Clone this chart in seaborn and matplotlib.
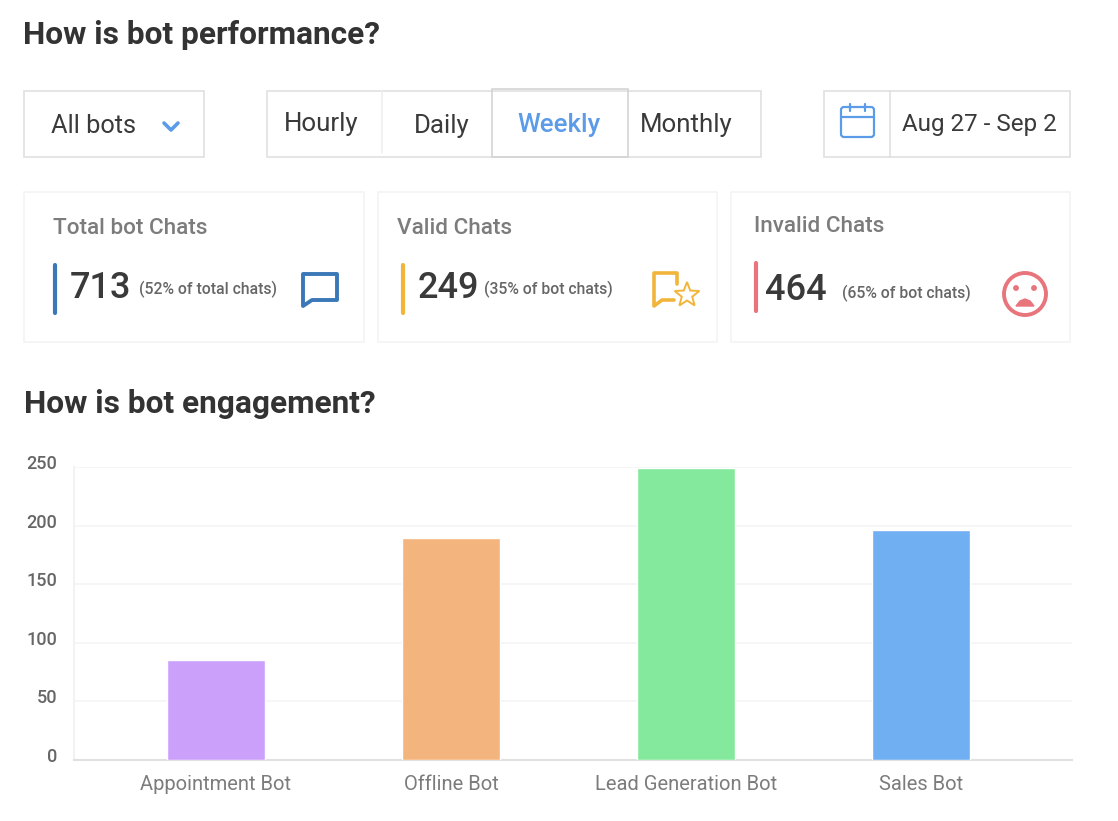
import matplotlib
matplotlib.use("Agg")
import matplotlib.pyplot as plt
from matplotlib.patches import Rectangle, Circle, Polygon, FancyBboxPatch, Wedge
from matplotlib.transforms import ScaledTranslation
import seaborn as sns
import pandas as pd
import numpy as np

bots = ["Appointment Bot", "Offline Bot", "Lead Generation Bot", "Sales Bot"]
chats = [85, 189, 249, 196]
barColors = ["#cba0fb", "#f4b47d", "#84e99c", "#70aff2"]
yTicks = [0, 50, 100, 150, 200, 250]

periods = ["Hourly", "Daily", "Weekly", "Monthly"]
cardTitles = ["Total bot Chats", "Valid Chats", "Invalid Chats"]
cardValues = ["713", "249", "464"]
cardNotes = ["(52% of total chats)", "(35% of bot chats)", "(65% of bot chats)"]

W, H = 1118, 821
dark = "#3a3a3a"
grey = "#7c7c7c"
line = "#e0e0e0"
blue = "#5b9be8"

sns.set_style("white")
plt.rcParams["font.family"] = ["Roboto", "DejaVu Sans"]

fig = plt.figure(figsize=(W / 100, H / 100), dpi=100, facecolor="white")

# the bar chart, placed on the pixels of the original plot area
left, right, top, bottom = 74, 1072, 467, 760
ax = fig.add_axes([left / W, 1 - bottom / H, (right - left) / W, (bottom - top) / H])
df = pd.DataFrame({"bot": bots, "chats": chats})
sns.barplot(data=df, x="bot", y="chats", hue="bot", palette=barColors, width=0.417,
            legend=False, saturation=1, ax=ax, zorder=3)
ax.set_xlim(-0.604, 3.643)
ax.set_ylim(0, 250)
ax.set_yticks(yTicks)
ax.set_xlabel("")
ax.set_ylabel("")
ax.grid(axis="y", color="#f5f5f5", lw=1.2, zorder=0)
sns.despine(ax=ax, top=True, right=True)
ax.spines["left"].set_color("#f0f0f0")
ax.spines["left"].set_linewidth(1.2)
ax.spines["bottom"].set_color("#e0e0e0")
ax.spines["bottom"].set_linewidth(1.5)
ax.tick_params(axis="x", length=0, pad=11, labelsize=14.5, labelcolor=grey)
ax.tick_params(axis="y", length=0, pad=12, labelsize=13, labelcolor="#666666")
# tick labels sit a little above their grid lines in the original
up = ScaledTranslation(0, 3 / 100, fig.dpi_scale_trans)
for t in ax.get_yticklabels():
    t.set_verticalalignment("center")
    t.set_fontweight("medium")
    t.set_transform(t.get_transform() + up)

# overlay in pixel coordinates for the dashboard part
ui = fig.add_axes([0, 0, 1, 1], facecolor="none")
ui.set_xlim(0, W)
ui.set_ylim(H, 0)
ui.axis("off")


def box(x0, y0, x1, y1, color=line, lw=1.2):
    ui.add_patch(Rectangle((x0, y0), x1 - x0, y1 - y0, fill=False, ec=color, lw=lw))


def label(x, y, s, size, color=dark, weight="normal", ha="left"):
    ui.text(x, y + 1, s, fontsize=size, color=color, fontweight=weight, ha=ha, va="center")


label(23, 34, "How is bot performance?", 22.8, "#333333", "bold")
label(24, 403, "How is bot engagement?", 22.8, "#333333", "bold")

# dropdown
box(24, 91, 204, 157)
label(51, 125, "All bots", 18.3)
ui.plot([164, 171, 178], [123, 130, 123], color=blue, lw=2.6)

# period switch
box(267, 91, 761, 157)
ui.plot([382, 382], [91, 153], color="#efefef", lw=1.2)
box(492, 89, 628, 157, "#d4d4d4")
for x, y, name in zip([284, 414, 517, 640], [123, 125, 124, 124], periods):
    if name == "Weekly":
        label(x, y, name, 18.6, blue, "medium")
    else:
        label(x, y, name, 18.6)

# date range
box(824, 91, 1070, 157)
ui.plot([890, 890], [91, 157], color=line, lw=1.2)
label(902, 123, "Aug 27 - Sep 2", 17.4)
ui.add_patch(FancyBboxPatch((841, 107), 33, 30, boxstyle="round,pad=0,rounding_size=3",
                            fill=False, ec=blue, lw=1.6))
ui.plot([841, 874], [117, 117], color=blue, lw=1.6)
ui.plot([850, 850], [104, 111], color=blue, lw=1.6)
ui.plot([865, 865], [104, 111], color=blue, lw=1.6)

# cards
cardX = [(24, 364), (378, 717), (731, 1070)]
titleX = [53, 397, 754]
titleY = [227, 227, 226]
accentX = [55, 403, 756]
accentY = [(265, 313), (265, 313), (263, 311)]
accentColors = ["#3b78b8", "#f2b53c", "#e8747c"]
valueX = [70, 418, 765]
valueY = [288, 288, 290]
noteX = [139, 484, 842]
noteY = [288, 288, 292]

for i in range(3):
    box(cardX[i][0], 192, cardX[i][1], 342, "#f4f4f4", 1.2)
    label(titleX[i], titleY[i], cardTitles[i], 16.2, grey, "medium")
    ui.plot([accentX[i], accentX[i]], accentY[i], color=accentColors[i], lw=3,
            solid_capstyle="round")
    label(valueX[i], valueY[i], cardValues[i], 26, dark, "medium")
    label(noteX[i], noteY[i], cardNotes[i], 11.3, "#666666", "medium")

# chat icon
chatBlue = "#3b78b8"
ui.add_patch(Polygon([(303, 274), (337, 274), (337, 300), (312, 300), (303, 306)],
                     closed=True, fill=False, ec=chatBlue, lw=2.8, joinstyle="round"))

# chat + star icon
orange = "#f2b53c"
ui.plot([677, 677, 654, 654, 662, 674], [284, 273, 273, 306, 300, 300], color=orange, lw=2.6,
        solid_joinstyle="round")
angles = np.deg2rad(np.arange(-90, 270, 36))
radii = np.array([13, 5.5] * 5)
ui.add_patch(Polygon(np.column_stack([687 + radii * np.cos(angles), 295 + radii * np.sin(angles)]),
                     closed=True, fc="white", ec=orange, lw=1.4, zorder=5))

# sad face
red = "#e8747c"
ui.add_patch(Circle((1025, 294), 21, fill=False, ec=red, lw=2.8))
ui.add_patch(Circle((1016, 288), 2.2, color=red))
ui.add_patch(Circle((1034, 288), 2.2, color=red))
ui.add_patch(Polygon([(1016, 306), (1020, 301), (1025, 299), (1030, 301), (1034, 306)],
                     closed=True, color=red))

fig.savefig("out.png", dpi=100, facecolor="white")
